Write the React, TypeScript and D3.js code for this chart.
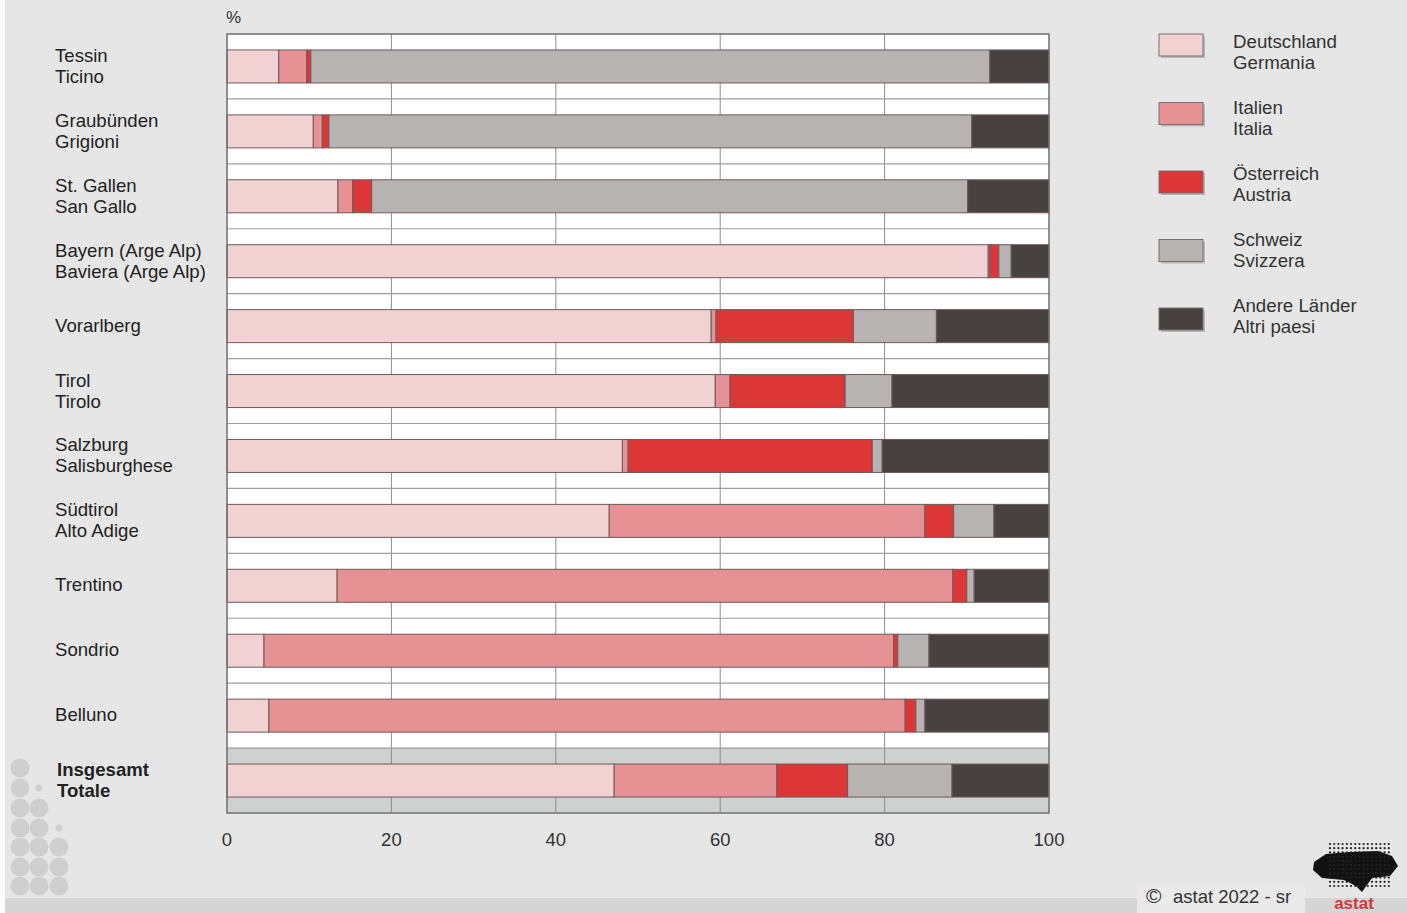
import * as d3 from "d3";

const regionsDe = ["Tessin", "Graubünden", "St. Gallen", "Bayern (Arge Alp)", "Vorarlberg", "Tirol", "Salzburg", "Südtirol", "Trentino", "Sondrio", "Belluno", "Insgesamt"];
const regionsIt = ["Ticino", "Grigioni", "San Gallo", "Baviera (Arge Alp)", "", "Tirolo", "Salisburghese", "Alto Adige", "", "", "", "Totale"];

const deutschland = [6.3, 10.5, 13.5, 92.6, 58.9, 59.4, 48.1, 46.5, 13.4, 4.5, 5.1, 47.1];
const italien = [3.4, 1.1, 1.8, 0.2, 0.6, 1.8, 0.7, 38.4, 74.9, 76.6, 77.4, 19.8];
const oesterreich = [0.5, 0.8, 2.3, 1.1, 16.7, 14.0, 29.7, 3.5, 1.7, 0.5, 1.3, 8.6];
const schweiz = [82.6, 78.2, 72.5, 1.5, 10.1, 5.7, 1.2, 4.9, 0.9, 3.8, 1.1, 12.7];
const andere = [7.2, 9.4, 9.9, 4.6, 13.7, 19.1, 20.3, 6.7, 9.1, 14.6, 15.1, 11.8];

const seriesKeys = ["de", "it", "at", "ch", "ot"];
const legendDe = ["Deutschland", "Italien", "Österreich", "Schweiz", "Andere Länder"];
const legendIt = ["Germania", "Italia", "Austria", "Svizzera", "Altri paesi"];
const colors = ["#f2d1d3", "#e69193", "#dc3636", "#b6b3b2", "#474241"];
const ticks = [0, 20, 40, 60, 80, 100];

const W = 1407;
const H = 913;
const m = { left: 227, right: 1049, top: 34, bottom: 813 };
const font = "Liberation Sans, Arial, sans-serif";

const rows = regionsDe.map((name, i) => ({
  name,
  de: deutschland[i],
  it: italien[i],
  at: oesterreich[i],
  ch: schweiz[i],
  ot: andere[i],
}));

const dotCols = [20, 39, 59];
const dotRows = [768, 788, 808, 828, 847, 867, 886];
// [row, col, big]
const dots: [number, number, boolean][] = [
  [0, 0, true], [1, 0, true], [1, 1, false], [2, 0, true], [2, 1, true],
  [3, 0, true], [3, 1, true], [3, 2, false],
  [4, 0, true], [4, 1, true], [4, 2, true],
  [5, 0, true], [5, 1, true], [5, 2, true],
  [6, 0, true], [6, 1, true], [6, 2, true],
];

export default function App() {
  const x = d3.scaleLinear().domain([0, 100]).range([m.left, m.right]);
  const y = d3.scaleBand().domain(regionsDe).range([m.top, m.bottom]).padding(0);
  const bw = y.bandwidth();
  const barH = 33;
  const stacked = d3.stack<any>().keys(seriesKeys)(rows);
  const lastBand = y(regionsDe[regionsDe.length - 1])!;

  // logo dots
  const logoDots: { cx: number; cy: number }[] = [];
  for (let r = 0; r < 11; r++) {
    for (let c = 0; c < 15; c++) {
      logoDots.push({ cx: 1330 + c * 4.2, cy: 844 + r * 4.2 });
    }
  }

  return (
    <svg width={W} height={H} style={{ display: "block", position: "absolute", left: 0, top: 0, fontFamily: font }}>
      <rect width={W} height={H} fill="#ffffff" />
      <rect x={5} width={W - 5} height={H} fill="#e6e6e6" />
      <rect x={5} y={898} width={W - 5} height={15} fill="#d5d5d5" />
      <rect x={1137} y={884} width={168} height={29} fill="#e9e9e9" />

      {dots.map(([r, c, big], i) => (
        <circle key={i} cx={dotCols[c]} cy={dotRows[r]} r={big ? 9.5 : 3.5} fill="#cfcfcf" />
      ))}

      {/* plot background */}
      <rect x={m.left} y={m.top} width={m.right - m.left} height={m.bottom - m.top} fill="#ffffff" />
      <rect x={m.left} y={lastBand} width={m.right - m.left} height={bw} fill="#cfd0d0" />

      {/* vertical grid */}
      {ticks.slice(1, -1).map((t) => (
        <line key={t} x1={x(t)} x2={x(t)} y1={m.top} y2={m.bottom} stroke="#8c8c8c" strokeWidth={1} />
      ))}
      {/* band boundaries */}
      {regionsDe.slice(1).map((r) => (
        <line key={r} x1={m.left} x2={m.right} y1={y(r)} y2={y(r)} stroke="#9d9d9d" strokeWidth={1.2} />
      ))}

      {/* bars */}
      {stacked.map((s, si) =>
        s.map((d, i) => (
          <rect
            key={si + "-" + i}
            x={x(d[0])}
            y={y(regionsDe[i])! + bw / 2 - barH / 2}
            width={Math.max(0, x(d[1]) - x(d[0]))}
            height={barH}
            fill={colors[si]}
            stroke="#6e5a5a"
            strokeWidth={1}
          />
        ))
      )}

      {/* frame */}
      <rect x={m.left} y={m.top} width={m.right - m.left} height={m.bottom - m.top} fill="none" stroke="#6f6f6f" strokeWidth={1.5} />

      <text x={226} y={23} fontSize={17} fill="#333">%</text>

      {ticks.map((t) => (
        <text key={t} x={x(t)} y={846} fontSize={18.5} fill="#333" textAnchor="middle">{t}</text>
      ))}

      {/* category labels */}
      {regionsDe.map((r, i) => {
        const cy = y(r)! + bw / 2;
        const bold = i === regionsDe.length - 1;
        const lx = bold ? 57 : 55;
        const it = regionsIt[i];
        return (
          <g key={r} fontSize={18.6} fill="#222" fontWeight={bold ? "bold" : "normal"}>
            {it ? (
              <>
                <text x={lx} y={cy - 11} dy="0.35em">{r}</text>
                <text x={lx} y={cy + 10} dy="0.35em">{it}</text>
              </>
            ) : (
              <text x={lx} y={cy - 1} dy="0.35em">{r}</text>
            )}
          </g>
        );
      })}

      {/* legend */}
      {legendDe.map((l, i) => {
        const ly = 34 + i * 68.5;
        const ty = 41 + i * 66;
        return (
          <g key={l}>
            <rect x={1161} y={ly + 2} width={44} height={22} fill="#9a9a9a" opacity={0.6} />
            <rect x={1159} y={ly} width={44} height={22} fill={colors[i]} stroke="#7a7070" strokeWidth={1} />
            <text x={1233} y={ty} dy="0.35em" fontSize={18.7} fill="#333">{l}</text>
            <text x={1233} y={ty + 21} dy="0.35em" fontSize={18.7} fill="#333">{legendIt[i]}</text>
          </g>
        );
      })}

      {/* footer */}
      <text x={1146} y={903} fontSize={21} fill="#333">©</text>
      <text x={1173} y={903} fontSize={18.5} fill="#333">astat 2022 - sr</text>
      <g>
        <path d="M1314,862 L1326,854 L1350,852 L1378,851 L1392,856 L1398,866 L1390,876 L1372,878 L1362,892 L1356,886 L1344,880 L1322,878 L1313,870 Z" fill="#111" />
        {logoDots.map((d, i) => (
          <circle key={i} cx={d.cx} cy={d.cy} r={1.1} fill="#222" />
        ))}
        <text x={1354} y={909} fontSize={17} fontWeight="bold" fill="#d9363b" textAnchor="middle">astat</text>
      </g>
    </svg>
  );
}
